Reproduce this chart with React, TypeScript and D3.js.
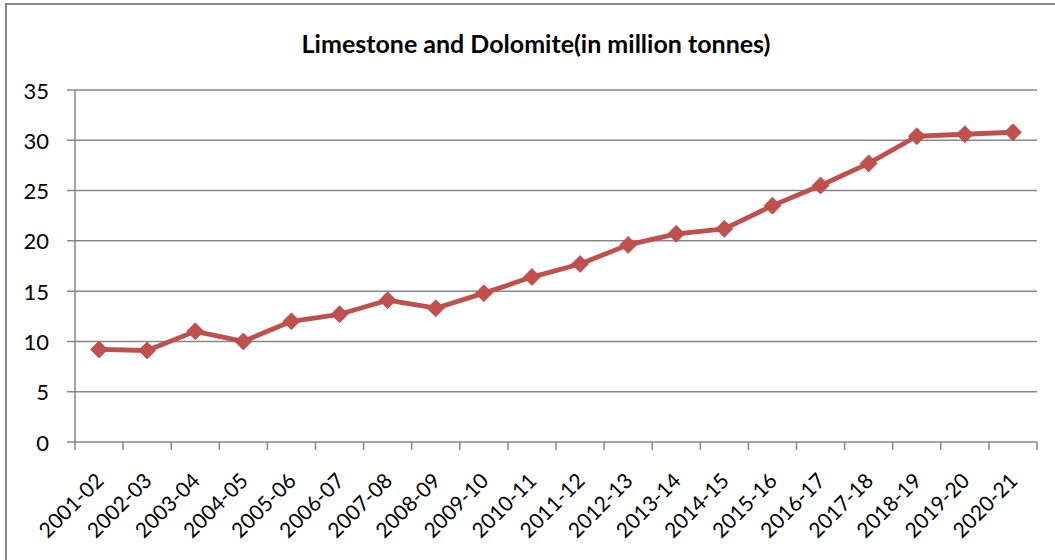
import React from "react";
import * as d3 from "d3";

const categories: string[] = [
  "2001-02", "2002-03", "2003-04", "2004-05", "2005-06", "2006-07", "2007-08",
  "2008-09", "2009-10", "2010-11", "2011-12", "2012-13", "2013-14", "2014-15",
  "2015-16", "2016-17", "2017-18", "2018-19", "2019-20", "2020-21",
];

const production: number[] = [
  9.2, 9.1, 11.0, 10.0, 12.0, 12.7, 14.1, 13.3, 14.8, 16.4,
  17.7, 19.6, 20.7, 21.2, 23.5, 25.5, 27.7, 30.4, 30.6, 30.8,
];

const yTicks: number[] = [0, 5, 10, 15, 20, 25, 30, 35];

const title = "Limestone and Dolomite(in million tonnes)";

const W = 1055;
const H = 560;
const plot = { left: 75, right: 1037, top: 90, bottom: 442 };
const FONT = "Lato, 'Open Sans', sans-serif";
const GRID = "#878787";
const RED = "#C0504D";

export default function App() {
  const x = d3
    .scaleBand<string>()
    .domain(categories)
    .range([plot.left, plot.right])
    .paddingInner(0)
    .paddingOuter(0);
  const y = d3.scaleLinear().domain([0, 35]).range([plot.bottom, plot.top]);

  const cx = (c: string) => (x(c) ?? 0) + x.bandwidth() / 2;

  const line = d3
    .line<number>()
    .x((_, i) => cx(categories[i]))
    .y((d) => y(d));

  const tickEdges = [...categories.map((c) => x(c) ?? 0), plot.right];
  const m = 8.5; // marker half-diagonal

  return (
    <svg
      width={W}
      height={H}
      style={{ position: "absolute", left: 0, top: 0, background: "#fff" }}
    >
      <rect x={0} y={0} width={W} height={H} fill="#fff" />
      {/* chart frame */}
      <rect x={6} y={4} width={W + 20} height={H + 20} fill="none" stroke={GRID} strokeWidth={2} />

      <text
        x={536}
        y={53}
        textAnchor="middle"
        fontFamily={FONT}
        fontWeight="bold"
        fontSize={25}
        fill="#000"
      >
        {title}
      </text>

      {/* horizontal gridlines and y ticks */}
      {yTicks.map((t) => (
        <g key={t}>
          <line x1={plot.left - 8} x2={plot.right} y1={y(t)} y2={y(t)} stroke={GRID} strokeWidth={1.5} />
          <text
            x={49}
            y={y(t)}
            textAnchor="end"
            dominantBaseline="central"
            fontFamily={FONT}
            fontSize={22}
            fill="#000"
          >
            {t}
          </text>
        </g>
      ))}

      {/* y axis line */}
      <line x1={plot.left} x2={plot.left} y1={plot.top} y2={plot.bottom} stroke={GRID} strokeWidth={1.5} />

      {/* x axis ticks */}
      {tickEdges.map((px, i) => (
        <line key={i} x1={px} x2={px} y1={plot.bottom} y2={plot.bottom + 8} stroke={GRID} strokeWidth={1.5} />
      ))}

      {/* x labels */}
      {categories.map((c) => (
        <text
          key={c}
          transform={`translate(${cx(c)},${plot.bottom + 34}) rotate(-45)`}
          textAnchor="end"
          dominantBaseline="central"
          fontFamily={FONT}
          fontSize={21}
          fill="#000"
        >
          {c}
        </text>
      ))}

      {/* series line */}
      <path d={line(production) ?? ""} fill="none" stroke={RED} strokeWidth={4.8} strokeLinejoin="round" />

      {/* diamond markers */}
      {production.map((v, i) => {
        const px = cx(categories[i]);
        const py = y(v);
        return (
          <path
            key={i}
            d={`M${px},${py - m}L${px + m},${py}L${px},${py + m}L${px - m},${py}Z`}
            fill={RED}
            stroke="#B64A47"
            strokeWidth={0.75}
          />
        );
      })}
    </svg>
  );
}
